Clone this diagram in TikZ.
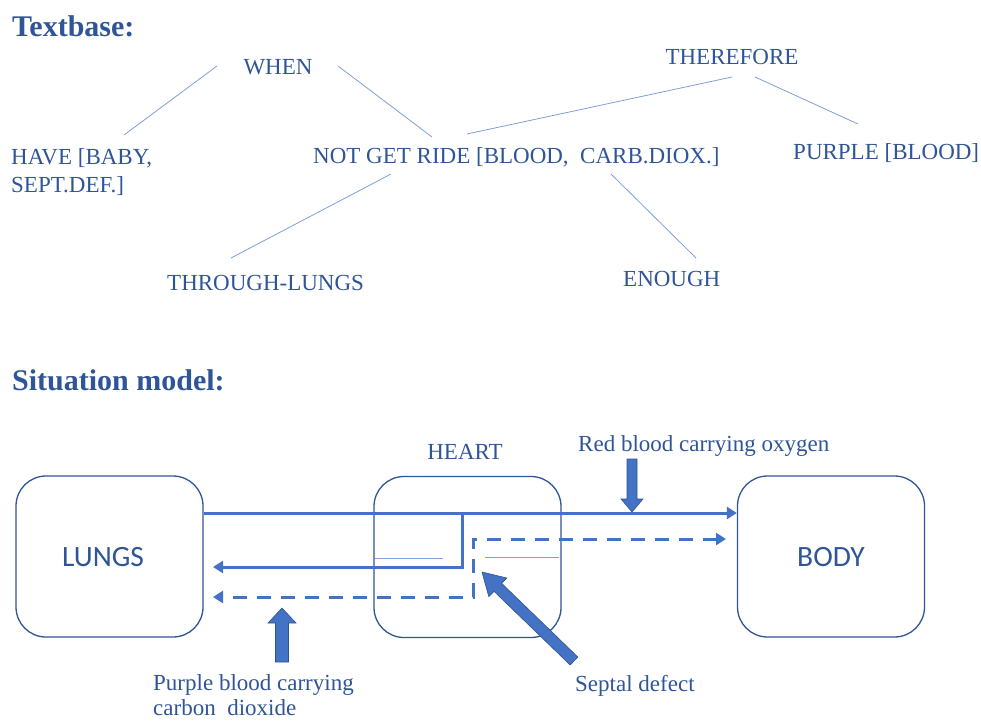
\documentclass[tikz,border=0pt]{standalone}
\usepackage{fontspec}
\setmainfont{Liberation Serif}
\newfontfamily\boxfont{Carlito}
\usetikzlibrary{arrows.meta}
\definecolor{ink}{HTML}{2F5597}
\definecolor{flowblue}{HTML}{4472C4}
\definecolor{edgeblue}{HTML}{2F528F}
\definecolor{treeblue}{HTML}{7F9FD8}
\begin{document}
\begin{tikzpicture}[x=1pt,y=-1pt,
  heading/.style={font=\fontsize{30}{36}\selectfont\bfseries, text=ink, inner sep=0pt, anchor=base west},
  term/.style={font=\fontsize{23}{28}\selectfont, text=ink, inner sep=0pt, anchor=base west},
  organ/.style={draw=ink, line width=1.3pt, rounded corners=30pt, minimum width=187pt,
    minimum height=161pt, inner sep=0pt},
  organname/.style={font=\boxfont\fontsize{29.5}{34}\selectfont, text=ink, inner sep=0pt},
  treeline/.style={draw=treeblue, line width=0.8pt},
  flow/.style={draw=flowblue, line width=3pt, -{Triangle[length=10pt,width=12pt]}},
  dashflow/.style={flow, dash pattern=on 14pt off 10pt},
  pointer/.style={fill=flowblue, draw=edgeblue, line width=0.6pt},
  septum/.style={draw=treeblue, line width=0.8pt}]
\useasboundingbox (0,0) rectangle (981,720);

% ---------- propositional textbase ----------
\node[heading] (tbtitle) at (12,36) {Textbase:};
\node[term, anchor=base] (when) at (278,74) {WHEN};
\node[term, anchor=base] (therefore) at (732,64) {THEREFORE};
\node[term, align=left] (have) at (11,192) {HAVE [BABY,\\SEPT.DEF.]};
\node[term] (ride) at (313,163) {NOT GET RIDE [BLOOD,\ \ CARB.DIOX.]};
\node[term] (purple) at (793,159) {PURPLE [BLOOD]};
\node[term] (through) at (167,290) {THROUGH-LUNGS};
\node[term] (enough) at (623,286) {ENOUGH};

\coordinate (whenL) at (217,66);   \coordinate (haveT) at (124,135);
\coordinate (whenR) at (338,66);   \coordinate (rideTL) at (432,137);
\coordinate (rideTR) at (467,134); \coordinate (thereL) at (732,77);
\coordinate (thereR) at (755,77);  \coordinate (purpleT) at (858,124);
\coordinate (rideBL) at (391,174); \coordinate (throughT) at (231,258);
\coordinate (rideBR) at (611,174); \coordinate (enoughT) at (696,258);

\draw[treeline] (whenL) -- (haveT);
\draw[treeline] (whenR) -- (rideTL);
\draw[treeline] (rideTR) -- (thereL);
\draw[treeline] (thereR) -- (purpleT);
\draw[treeline] (rideBL) -- (throughT);
\draw[treeline] (rideBR) -- (enoughT);

% ---------- situation model ----------
\node[heading] (smtitle) at (12,390) {Situation model:};

\node[organ] (lungs) at (109.5,556.5) {};
\node[organ] (heart) at (467.5,557) {};
\node[organ] (body) at (831,556.5) {};
\node[organname] (lungsname) at (103,557) {LUNGS};
\node[organname] (bodyname) at (831,557) {BODY};
\node[term, anchor=base] (heartlbl) at (465,459) {HEART};

% flow corners
\coordinate (splitTop) at (462,513);
\coordinate (splitLow) at (462,567);
\coordinate (retTip) at (213,567);
\coordinate (dashTip) at (726,539);
\coordinate (dashCorner) at (473,539);
\coordinate (dashLow) at (473,597);
\coordinate (dashRet) at (213,597);

% oxygenated blood to the body, partly returned to the lungs
\draw[flow] (lungs.east |- 0,513) -- (body.west |- 0,513);
\draw[flow] (splitTop) -- (splitLow) -- (retTip);
% mixed blood through the septal defect
\draw[dashflow, {Triangle[length=10pt,width=12pt]}-{Triangle[length=10pt,width=12pt]}]
  (dashTip) -- (dashCorner) -- (dashLow) -- (dashRet);

% septum marks inside the heart
\draw[septum] (375,558) -- (443,558);
\draw[septum] (485,557) -- (559,557);

% callout labels
\node[term] (redlbl) at (578,451) {Red blood carrying oxygen};
\node[term, align=left] (purplelbl) at (153,715) {Purple blood carrying\\[-3pt]carbon\ \ dioxide};
\node[term] (septlbl) at (575,691) {Septal defect};

% block pointers
\draw[pointer] (627,459) -- (637,459) -- (637,499) -- (643,499) -- (632,512)
  -- (621,499) -- (627,499) -- cycle;
\draw[pointer] (275.5,662) -- (288.5,662) -- (288.5,623) -- (296,623) -- (282,608)
  -- (268,623) -- (275.5,623) -- cycle;
\draw[pointer] (482,572) -- (506.8,578.0) -- (501.6,583.3) -- (577.8,657.0)
  -- (570.2,665.0) -- (494.0,591.3) -- (488.8,596.6) -- cycle;
\end{tikzpicture}
\end{document}
